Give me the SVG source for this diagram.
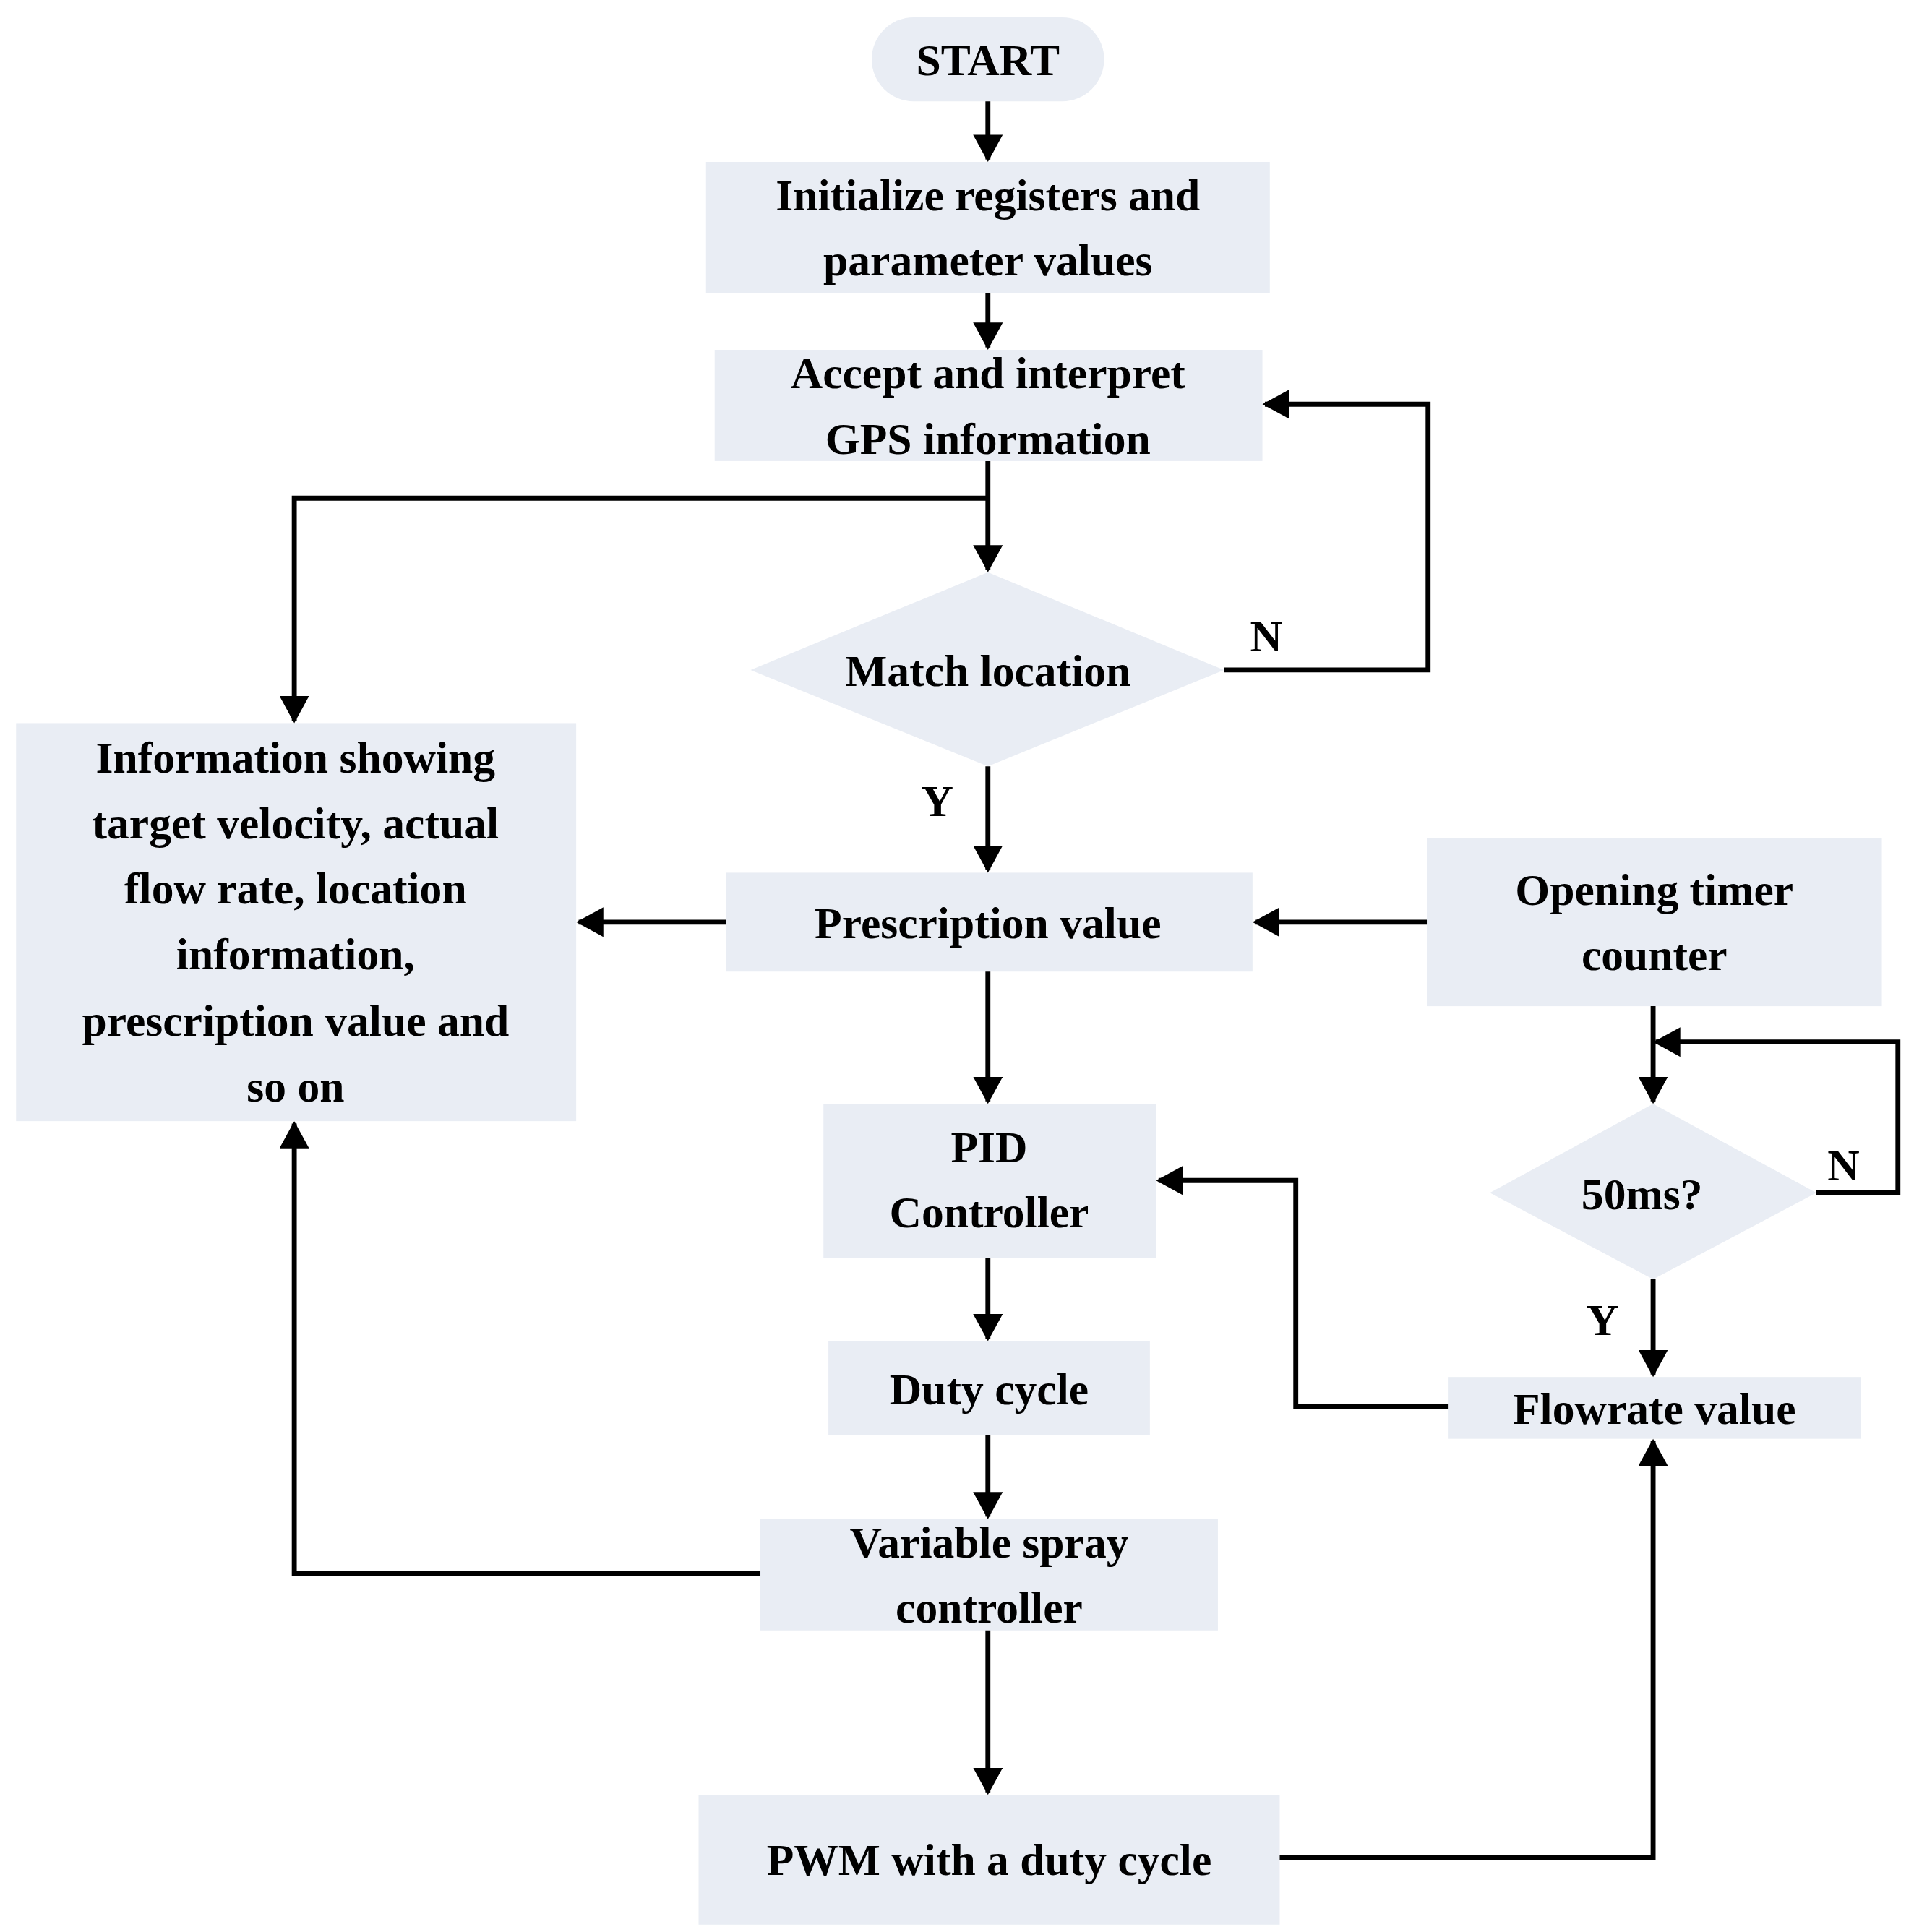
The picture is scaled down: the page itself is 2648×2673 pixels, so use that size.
<svg xmlns="http://www.w3.org/2000/svg" width="2648" height="2673" viewBox="0 0 2648 2673">
<defs>
<marker id="ah" markerWidth="6" markerHeight="6" refX="5" refY="3" orient="auto" markerUnits="strokeWidth">
<path d="M0,0 L5.5,3 L0,6 z" fill="#000"/>
</marker>
<style>
.n{fill:#e9edf4;stroke:none}
.t{font-family:"Liberation Serif",serif;font-weight:bold;font-size:36px;fill:#000;text-anchor:middle}
.c{fill:none;stroke:#000;stroke-width:4;marker-end:url(#ah)}
.p{fill:none;stroke:#000;stroke-width:4}
</style>
</defs>
<rect width="2648" height="2673" fill="#fff"/>
<g transform="scale(1.7106,1.7102)">
<g id="start"><rect class="n" x="705" y="14" width="188" height="68" rx="34"/><text class="t" x="799" y="61">START</text></g>
<g id="init"><rect class="n" x="571" y="131" width="456" height="106"/><text class="t" x="799" y="170">Initialize registers and</text><text class="t" x="799" y="223">parameter values</text></g>
<g id="accept"><rect class="n" x="578" y="283" width="443" height="90"/><text class="t" x="799" y="314">Accept and interpret</text><text class="t" x="799" y="367">GPS information</text></g>
<g id="match"><polygon class="n" points="799,463 990,542 799,620 607,542"/><text class="t" x="799" y="555">Match location</text></g>
<g id="info"><rect class="n" x="13" y="585" width="453" height="322"/>
<text class="t" x="239" y="625">Information showing</text><text class="t" x="239" y="678">target velocity, actual</text><text class="t" x="239" y="731">flow rate, location</text><text class="t" x="239" y="784">information,</text><text class="t" x="239" y="838">prescription value and</text><text class="t" x="239" y="891">so on</text></g>
<g id="presc"><rect class="n" x="587" y="706" width="426" height="80"/><text class="t" x="799" y="759">Prescription value</text></g>
<g id="timer"><rect class="n" x="1154" y="678" width="368" height="136"/><text class="t" x="1338" y="732">Opening timer</text><text class="t" x="1338" y="785">counter</text></g>
<g id="pid"><rect class="n" x="666" y="893" width="269" height="125"/><text class="t" x="800" y="940">PID</text><text class="t" x="800" y="993">Controller</text></g>
<g id="ms"><polygon class="n" points="1337,893 1469,965 1337,1035 1205,965"/><text class="t" x="1328" y="978">50ms?</text></g>
<g id="duty"><rect class="n" x="670" y="1085" width="260" height="76"/><text class="t" x="800" y="1136">Duty cycle</text></g>
<g id="flow"><rect class="n" x="1171" y="1114" width="334" height="50"/><text class="t" x="1338" y="1152">Flowrate value</text></g>
<g id="var"><rect class="n" x="615" y="1229" width="370" height="90"/><text class="t" x="800" y="1260">Variable spray</text><text class="t" x="800" y="1313">controller</text></g>
<g id="pwm"><rect class="n" x="565" y="1452" width="470" height="105"/><text class="t" x="800" y="1517">PWM with a duty cycle</text></g>
<g id="connectors">
<path class="c" d="M799,82 V129"/>
<path class="c" d="M799,237 V281"/>
<path class="c" d="M799,373 V461"/>
<path class="c" d="M799,403 H238 V583"/>
<path class="c" d="M990,542 H1155 V327 H1023"/>
<path class="c" d="M799,620 V704"/>
<path class="c" d="M587,746 H468"/>
<path class="c" d="M1154,746 H1015"/>
<path class="c" d="M799,786 V891"/>
<path class="c" d="M1337,814 V891"/>
<path class="c" d="M1469,965 H1535 V843 H1339"/>
<path class="c" d="M1337,1035 V1112"/>
<path class="c" d="M1171,1138 H1048 V955 H937"/>
<path class="c" d="M799,1018 V1083"/>
<path class="c" d="M799,1161 V1227"/>
<path class="c" d="M615,1273 H238 V909"/>
<path class="c" d="M799,1319 V1450"/>
<path class="c" d="M1035,1503 H1337 V1166"/>
<text class="t" x="1024" y="527">N</text>
<text class="t" x="758" y="660">Y</text>
<text class="t" x="1491" y="955">N</text>
<text class="t" x="1296" y="1080">Y</text>
</g>
</g>
</svg>
